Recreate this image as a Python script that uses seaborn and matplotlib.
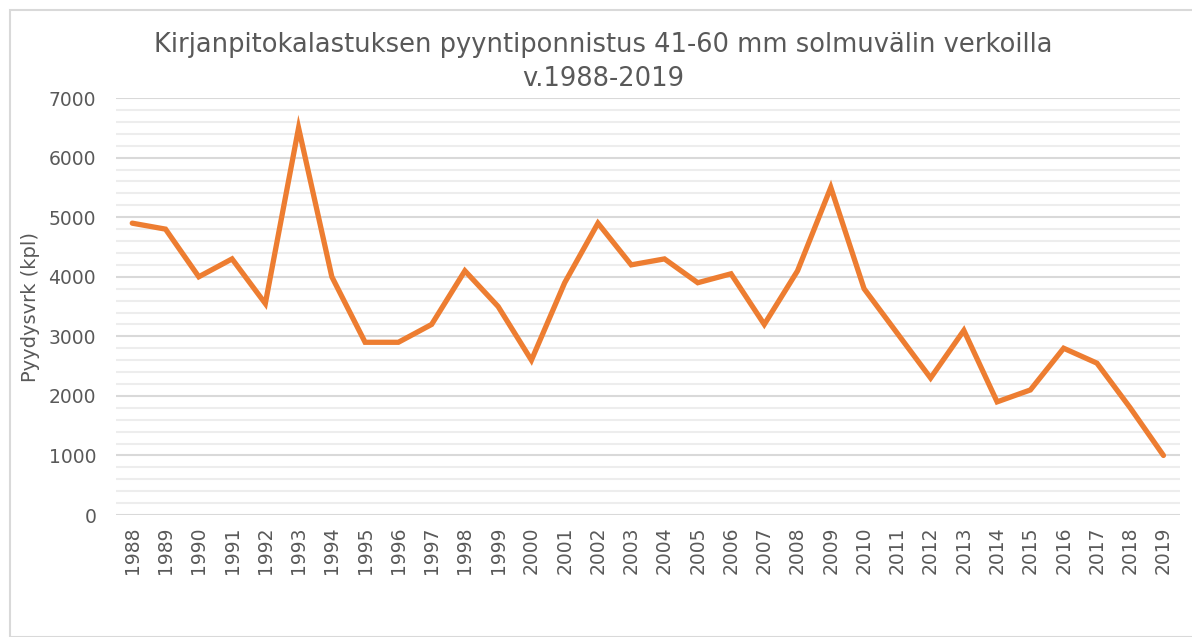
import matplotlib
matplotlib.use("Agg")
import matplotlib.pyplot as plt
from matplotlib.patches import Rectangle
from matplotlib.ticker import MultipleLocator
import pandas as pd
import seaborn as sns

years = list(range(1988, 2020))
effort = [4900, 4800, 4000, 4300, 3550, 6500, 4000, 2900, 2900, 3200,
          4100, 3500, 2600, 3900, 4900, 4200, 4300, 3900, 4050, 3200,
          4100, 5500, 3800, 3050, 2300, 3100, 1900, 2100, 2800, 2550,
          1800, 1000]
title = "Kirjanpitokalastuksen pyyntiponnistus 41-60 mm solmuvälin verkoilla\nv.1988-2019"
ylabel = "Pyydysvrk (kpl)"

df = pd.DataFrame({"vuosi": years, "kpl": effort})

sns.set_style("white")
plt.rcParams["font.family"] = ["DejaVu Sans"]
text_color = "#595959"

fig = plt.figure(figsize=(11.92, 6.37), dpi=100)
ax = fig.add_axes([0.097, 0.1915, 0.893, 0.6545])

sns.lineplot(data=df, x="vuosi", y="kpl", color="#ED7D31", linewidth=3.8,
             ax=ax, solid_joinstyle="miter")

ax.set_xlim(1987.5, 2019.5)
ax.set_ylim(0, 7000)
ax.set_xticks(years)
ax.set_xticklabels([str(y) for y in years], rotation=90)
ax.yaxis.set_major_locator(MultipleLocator(1000))
ax.yaxis.set_minor_locator(MultipleLocator(200))
ax.grid(True, which="major", axis="y", color="#D9D9D9", linewidth=1.5)
ax.grid(True, which="minor", axis="y", color="#EDEDED", linewidth=1.5)
ax.set_axisbelow(True)
for s in ax.spines.values():
    s.set_visible(False)
ax.tick_params(axis="both", length=0, labelsize=13.5, colors=text_color)
ax.tick_params(axis="y", pad=14)
ax.tick_params(axis="x", pad=8)
ax.set_xlabel("")
ax.set_ylabel(ylabel, fontsize=14, color=text_color, labelpad=6)

fig.text(0.506, 0.903, title, ha="center", va="center", fontsize=18.5,
         color=text_color, linespacing=1.4)

fig.patches.append(Rectangle((10 / 1192, 0), 1.0, 1 - 10 / 637,
                             transform=fig.transFigure, fill=False,
                             edgecolor="#D9D9D9", linewidth=1.5))

fig.savefig("out.png", dpi=100)
